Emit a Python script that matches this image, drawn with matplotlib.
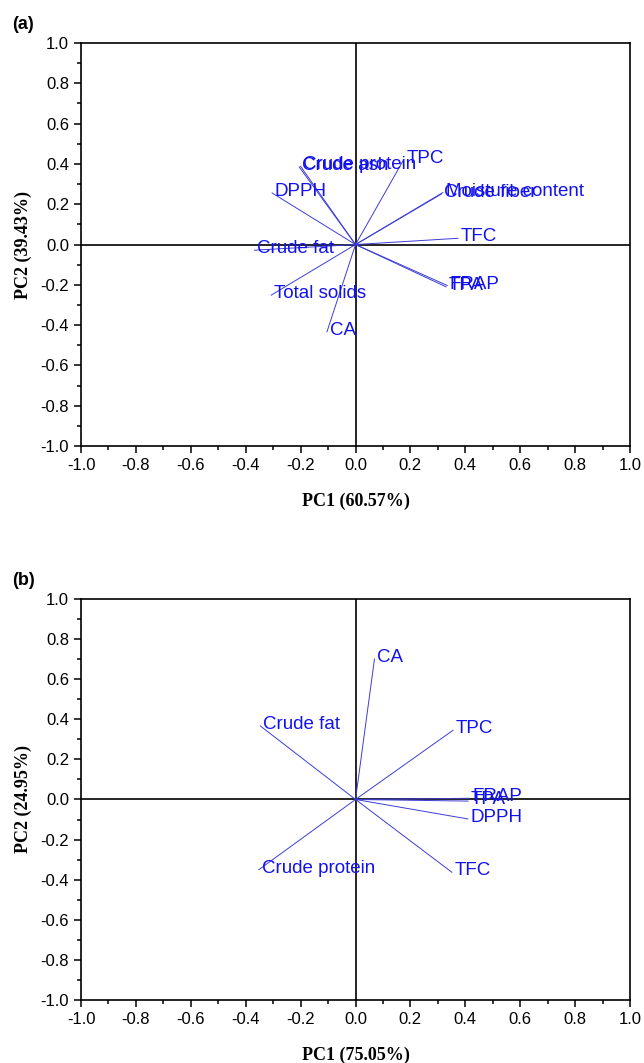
import numpy as np
import matplotlib
matplotlib.use("Agg")
import matplotlib.pyplot as plt
from matplotlib.ticker import MultipleLocator

# loadings, panel (a)
names_a = ["Crude ash", "Crude protein", "TPC", "DPPH", "Moisture content", "Crude fiber",
           "TFC", "FRAP", "TPA", "Crude fat", "Total solids", "CA"]
pc1_a = [-0.205, -0.200, 0.175, -0.304, 0.318, 0.312, 0.373, 0.334, 0.330, -0.368, -0.307, -0.104]
pc2_a = [0.385, 0.388, 0.420, 0.256, 0.258, 0.250, 0.031, -0.203, -0.210, -0.028, -0.251, -0.433]
var_a = ["PC1 (60.57%)", "PC2 (39.43%)"]

# loadings, panel (b)
names_b = ["CA", "Crude fat", "TPC", "FRAP", "TPA", "DPPH", "Crude protein", "TFC"]
pc1_b = [0.069, -0.347, 0.355, 0.415, 0.410, 0.409, -0.352, 0.351]
pc2_b = [0.700, 0.367, 0.345, 0.006, -0.008, -0.097, -0.350, -0.363]
var_b = ["PC1 (75.05%)", "PC2 (24.95%)"]

sans = "Liberation Sans"
serif = "Liberation Serif"
line_col = "#3d3dd6"
text_col = "#1212ee"

fig = plt.figure(figsize=(6.44, 10.63), dpi=100)
ax_a = fig.add_axes([0.1258, 0.5804, 0.8525, 0.3791])
ax_b = fig.add_axes([0.1258, 0.0593, 0.8525, 0.3772])


def draw_biplot(ax, names, pc1, pc2, labels, tag):
    ax.axhline(0, color="black", lw=1.2, zorder=1)
    ax.axvline(0, color="black", lw=1.2, zorder=1)
    for n, x, y in zip(names, pc1, pc2):
        ax.plot([0, x], [0, y], color=line_col, lw=0.7, zorder=2)
        ax.annotate(n, (x, y), xytext=(2, 1), textcoords="offset points",
                    ha="left", va="center", color=text_col,
                    fontsize=13.5, family=sans, zorder=3)
    ax.set_xlim(-1, 1)
    ax.set_ylim(-1, 1)
    ax.xaxis.set_major_locator(MultipleLocator(0.2))
    ax.yaxis.set_major_locator(MultipleLocator(0.2))
    ax.xaxis.set_minor_locator(MultipleLocator(0.1))
    ax.yaxis.set_minor_locator(MultipleLocator(0.1))
    ax.tick_params(which="major", direction="out", length=5, width=1.1,
                   labelsize=12, top=False, right=False)
    ax.tick_params(which="minor", direction="out", length=3, width=1.1,
                   top=False, right=False)
    for lab in ax.get_xticklabels() + ax.get_yticklabels():
        lab.set_family(sans)
    ax.xaxis.set_major_formatter(lambda v, p: f"{v:.1f}".replace("-0.0", "0.0"))
    ax.yaxis.set_major_formatter(lambda v, p: f"{v:.1f}".replace("-0.0", "0.0"))
    for s in ax.spines.values():
        s.set_linewidth(1.2)
    ax.set_xlabel(labels[0], family=serif, fontweight="bold", fontsize=13, labelpad=14)
    ax.set_ylabel(labels[1], family=serif, fontweight="bold", fontsize=13, labelpad=6)
    ax.text(-0.125, 1.045, tag, transform=ax.transAxes, family=sans,
            fontweight="bold", fontsize=13, ha="left", va="center")


draw_biplot(ax_a, names_a, pc1_a, pc2_a, var_a, "(a)")
draw_biplot(ax_b, names_b, pc1_b, pc2_b, var_b, "(b)")

fig.savefig("out.png", dpi=100)
